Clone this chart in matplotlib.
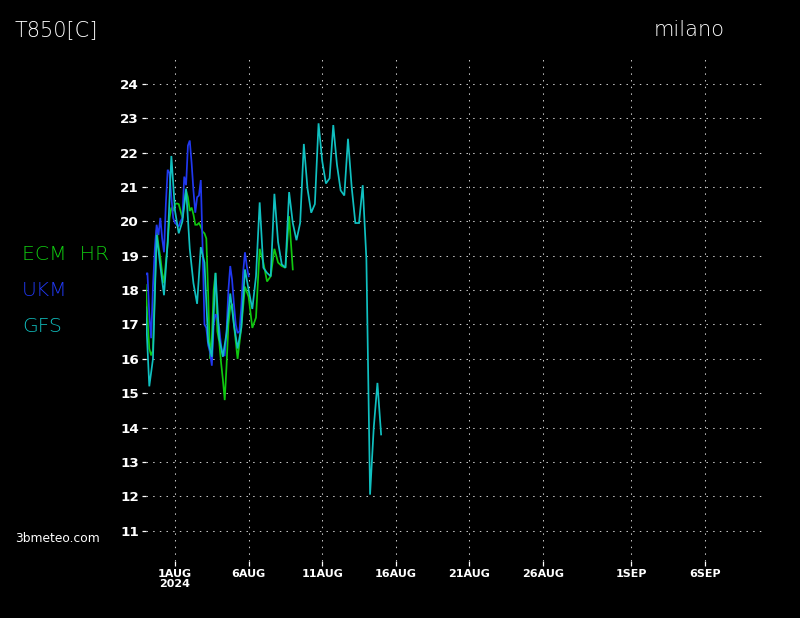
import numpy as np
import matplotlib
matplotlib.use("Agg")
import matplotlib.pyplot as plt
from matplotlib import font_manager as fm

# ---------------- data (T850 in degrees C, Milano) ----------------
# time in hours since 2024-07-30 00Z
ecm_hours = list(range(0, 145, 3)) + list(range(150, 241, 6))
ecm_vals = [18.15, 17.2, 16.3, 16.1, 16.25, 18.0, 19.75, 19.3, 18.95, 18.5,
            18.2, 18.8, 19.35, 20.1, 20.4, 20.3, 20.5, 20.52, 20.5, 20.3,
            20.1, 20.5, 20.9, 20.7, 20.3, 20.4, 20.2, 19.9, 19.9, 19.95,
            19.85, 19.7, 19.65, 19.5, 17.9, 16.0, 16.6, 18.0, 18.5, 16.8,
            16.5, 15.9, 15.4, 14.8, 15.8, 17.0, 17.5, 17.6, 17.0,
            16.0, 16.9, 18.1, 17.8, 16.9, 17.2, 19.2, 18.8, 18.25, 18.4,
            19.2, 18.8, 18.7, 18.65, 20.15, 18.6]

ukm_hours = list(range(0, 169, 3))
ukm_vals = [18.45, 18.5, 17.3, 16.6, 18.1, 19.2, 19.9, 19.6, 20.1, 19.5,
            19.1, 20.5, 21.5, 21.4, 20.7, 20.1, 19.95, 19.9, 19.85, 20.0,
            20.1, 21.3, 21.05, 22.2, 22.35, 21.7, 20.9, 20.25, 20.7, 20.75,
            21.2, 19.2, 17.0, 16.9, 16.4, 16.2, 15.8, 17.0, 17.3, 17.2,
            16.9, 16.4, 16.1, 16.1, 16.8, 18.0, 18.7, 18.3, 17.6, 17.0,
            16.75, 16.8, 17.5, 18.5, 19.1, 18.7, 18.4]

gfs_hours = list(range(0, 385, 6))
gfs_vals = [17.5, 15.2, 16.0, 19.6, 18.7, 17.85, 19.4, 21.9, 20.3, 19.65,
            20.0, 20.95, 19.2, 18.2, 17.6, 19.25, 18.8, 16.5, 16.06, 18.5,
            16.6, 16.06, 16.75, 17.9, 17.0, 16.3, 16.9, 18.6, 18.0, 17.45,
            18.4, 20.55, 18.65, 18.5, 18.4, 20.8, 19.4, 18.75, 18.65, 20.85,
            19.95, 19.45, 19.95, 22.25, 20.95, 20.25, 20.5, 22.85, 21.75, 21.1,
            21.25, 22.8, 21.65, 20.9, 20.75, 22.4, 21.0, 19.95, 19.95, 21.05,
            18.9, 12.05, 14.0, 15.3, 13.8]

x_tick_days = [2, 7, 12, 17, 22, 27, 33, 38]   # days since 2024-07-30
x_tick_labels = ["1AUG\n2024", "6AUG", "11AUG", "16AUG", "21AUG", "26AUG", "1SEP", "6SEP"]
y_ticks = list(range(11, 25))

series_names = ["ECM  HR", "UKM", "GFS"]
series_colors = ["#10c810", "#2038f0", "#10c0c0"]

# ---------------- fonts ----------------
names = {f.name for f in fm.fontManager.ttflist}
narrow = "Liberation Sans Narrow" if "Liberation Sans Narrow" in names else "DejaVu Sans"
light_dejavu = any(f.name == "DejaVu Sans" and f.weight in (200, 300, "light", "extra-light")
                   for f in fm.fontManager.ttflist)
label_weight = 200 if light_dejavu else "normal"
label_alpha = 1.0 if light_dejavu else 0.82

W, H = 800, 618
fig = plt.figure(figsize=(W / 100, H / 100), dpi=100, facecolor="black")
ax = fig.add_axes([145.6 / W, 1 - 561 / H, (763.8 - 145.6) / W, (561 - 58) / H])
ax.set_facecolor("black")

for hrs, vals, col in zip([ecm_hours, ukm_hours, gfs_hours],
                          [ecm_vals, ukm_vals, gfs_vals], series_colors):
    ax.plot(np.array(hrs) / 24.0, vals, color=col, lw=1.25, zorder=3,
            solid_joinstyle="miter")

ax.set_xlim(0, 42)
ax.set_ylim(10.12, 24.75)
for s in ax.spines.values():
    s.set_visible(False)

ax.set_xticks(x_tick_days)
ax.set_xticklabels(x_tick_labels, fontfamily=narrow, fontweight="bold",
                   fontsize=8, color="white", linespacing=1.0)
ax.set_yticks(y_ticks)
ax.set_yticklabels([str(v) for v in y_ticks], fontfamily=narrow,
                   fontweight="bold", fontsize=9.7, color="white")
ax.tick_params(axis="x", colors="white", length=3.6, width=0.9, pad=2.2)
ax.tick_params(axis="y", colors="white", length=2.9, width=0.9, pad=1.8)

ax.grid(True, color="#c8c8c8", lw=0.75, linestyle=(0, (1.4, 5.0)), zorder=1)

# ---------------- texts ----------------
def ftext(x, y, s, **kw):
    fig.text(x / W, 1 - y / H, s, **kw)

ftext(15, 30, "T850[C]", fontsize=15, color="white", family="DejaVu Sans",
      fontweight=label_weight, alpha=label_alpha, va="center", ha="left")
ftext(654, 30, "milano", fontsize=15, color="white", family="DejaVu Sans",
      fontweight=label_weight, alpha=label_alpha, va="center", ha="left")
for name, col, yy in zip(series_names, series_colors, [255, 291, 327]):
    ftext(22, yy, name, fontsize=14.7, color=col, family="DejaVu Sans",
          fontweight=label_weight, alpha=label_alpha, va="center", ha="left")
ftext(15, 538, "3bmeteo.com", fontsize=8.8, color="white",
      family="DejaVu Sans", va="center", ha="left")

fig.savefig("out.png", dpi=100, facecolor="black")
